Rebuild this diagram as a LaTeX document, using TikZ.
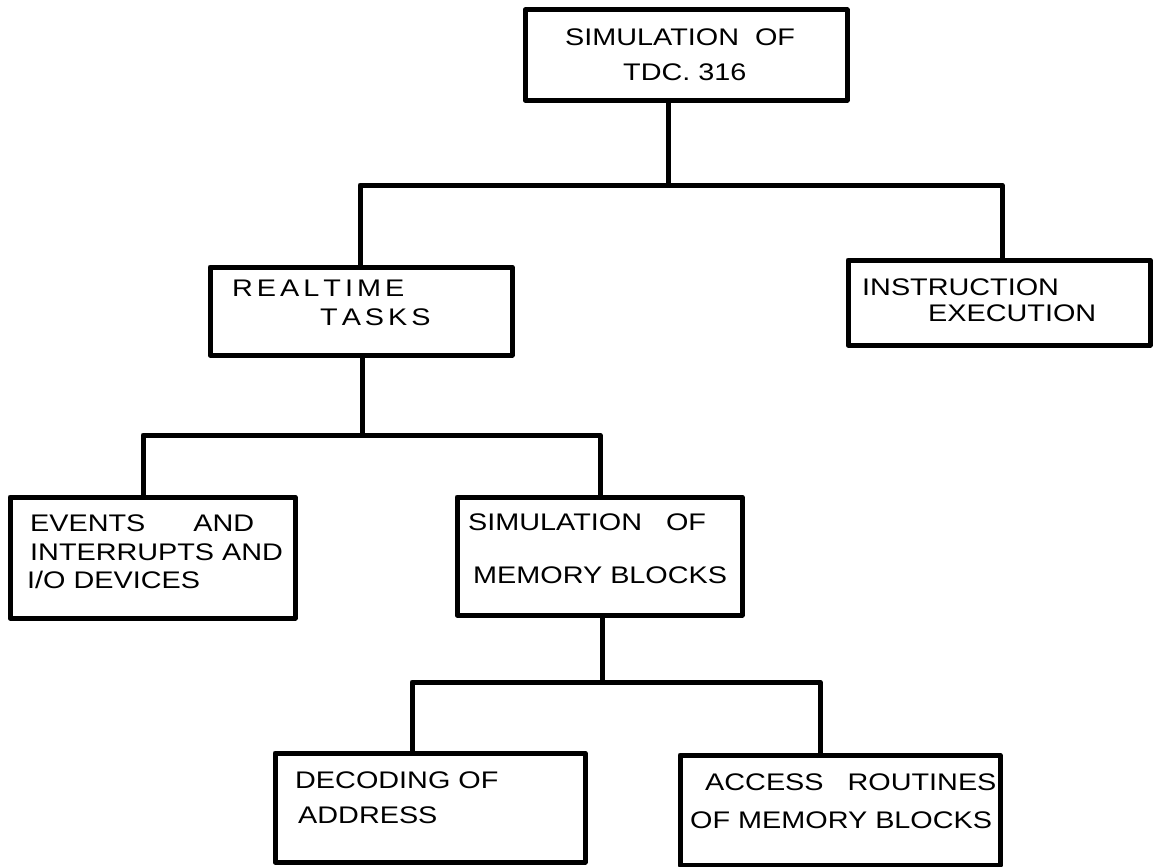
\documentclass[tikz,border=0pt]{standalone}
\usepackage{fontspec}
\setmainfont{Liberation Sans}[FakeStretch=1.2]
\begin{document}
\begin{tikzpicture}[x=1pt,y=-1pt,
  box/.style={draw, line width=5pt, rectangle, inner sep=0pt, line join=round},
  wire/.style={line width=5pt, line join=round, line cap=round},
  lbl/.style={anchor=west, inner sep=0pt, font=\fontsize{24}{28}\selectfont, text height=17pt, text depth=0pt}]
\useasboundingbox (0,0) rectangle (1159,867);
% boxes
\node[box, minimum width=322pt, minimum height=90pt] (sim) at (686,55) {};
\node[box, minimum width=302pt, minimum height=88pt] (rt) at (361,311) {};
\node[box, minimum width=302pt, minimum height=85pt] (ins) at (999,302.5) {};
\node[box, minimum width=285pt, minimum height=121pt] (ev) at (152.5,557.5) {};
\node[box, minimum width=285pt, minimum height=118pt] (mem) at (599.5,556) {};
\node[box, minimum width=310pt, minimum height=109pt] (dec) at (430,807.5) {};
\node[box, minimum width=320pt, minimum height=110pt] (acc) at (840,810) {};
% texts
\node[lbl] (t1a) at (565,37) {SIMULATION\ \ OF};
\node[lbl] (t1b) at (623,72) {TDC. 316};
\node[lbl] (t2a) at (232,288) {R\,E\,A\,L\,T\,I\,M\,E};
\node[lbl] (t2b) at (320,317) {T\,A\,S\,K\,S};
\node[lbl] (t3a) at (862,287) {INSTRUCTION};
\node[lbl] (t3b) at (928,313) {EXECUTION};
\node[lbl] (t4a) at (30,523) {EVENTS\qquad AND};
\node[lbl] (t4b) at (30,552) {INTERRUPTS AND};
\node[lbl] (t4c) at (27,580) {I/O DEVICES};
\node[lbl] (t5a) at (468,522) {SIMULATION\quad OF};
\node[lbl] (t5b) at (473,575) {MEMORY BLOCKS};
\node[lbl] (t6a) at (295,780) {DECODING OF};
\node[lbl] (t6b) at (298,815) {ADDRESS};
\node[lbl] (t7a) at (705,782) {ACCESS\quad ROUTINES};
\node[lbl] (t7b) at (690,820) {OF MEMORY BLOCKS};
% junctions
\coordinate (j0) at (668,185);
\coordinate (a1) at (360,185);
\coordinate (b1) at (1002,185);
\coordinate (j1) at (362,435);
\coordinate (a2) at (143,435);
\coordinate (b2) at (600,435);
\coordinate (j2) at (602,682);
\coordinate (a3) at (412,682);
\coordinate (b3) at (820,682);
% connectors
\draw[wire] (sim.south -| j0) -- (j0);
\draw[wire] (rt.north -| a1) -- (a1) -- (b1) -- (ins.north -| b1);
\draw[wire] (rt.south -| j1) -- (j1);
\draw[wire] (ev.north -| a2) -- (a2) -- (b2) -- (mem.north -| b2);
\draw[wire] (mem.south -| j2) -- (j2);
\draw[wire] (dec.north -| a3) -- (a3) -- (b3) -- (acc.north -| b3);
\end{tikzpicture}
\end{document}
